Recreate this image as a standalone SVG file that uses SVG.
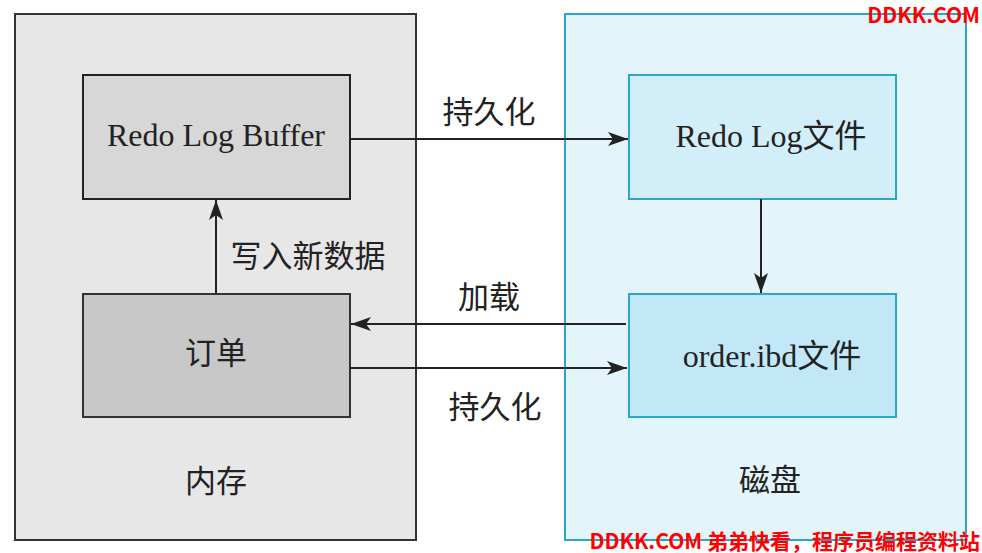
<svg xmlns="http://www.w3.org/2000/svg" width="982" height="553" viewBox="0 0 982 553">
<defs>
<marker id="ah" viewBox="0 0 20 14" refX="20" refY="7" markerWidth="20" markerHeight="14" markerUnits="userSpaceOnUse" orient="auto">
<path d="M0,0 L20,7 L0,14 L5,7 Z" fill="#222"/>
</marker>
<style>
.t{font-family:"Liberation Serif","Noto Sans CJK SC",serif;font-size:31px;fill:#222;text-anchor:middle}
.l{font-size:32px}
.c{stroke:#222;stroke-width:2;fill:none}
.w{font-family:"Noto Sans CJK SC","Liberation Sans",sans-serif;font-weight:bold;fill:#ff0000;font-size:21px}
</style>
</defs>
<rect width="982" height="553" fill="#ffffff"/>
<g id="mem">
<rect x="15" y="14" width="401" height="526" fill="#e7e7e7" stroke="#333" stroke-width="2"/>
<text class="t" x="216" y="492">内存</text>
</g>
<g id="disk">
<rect x="565" y="14" width="401" height="526" fill="#e3f4fb" stroke="#2aa6c9" stroke-width="2"/>
<text class="t" x="770" y="491">磁盘</text>
</g>
<g id="buffer">
<rect x="83" y="75" width="267" height="124" fill="#d7d7d7" stroke="#222" stroke-width="2"/>
<text class="t l" x="216" y="146">Redo Log Buffer</text>
</g>
<g id="order">
<rect x="83" y="294" width="267" height="123" fill="#c8c8c8" stroke="#333" stroke-width="2"/>
<text class="t" x="216" y="364">订单</text>
</g>
<g id="redofile">
<rect x="629" y="75" width="267" height="124" fill="#d2eef9" stroke="#2aa6c9" stroke-width="2"/>
<text class="t l" x="771" y="147">Redo Log文件</text>
</g>
<g id="ibd">
<rect x="629" y="294" width="267" height="123" fill="#c2e8f8" stroke="#2aa6c9" stroke-width="2"/>
<text class="t l" x="772" y="367">order.ibd文件</text>
</g>
<g id="connectors">
<line class="c" x1="350" y1="139" x2="628" y2="139" marker-end="url(#ah)"/>
<line class="c" x1="216" y1="293" x2="216" y2="200" marker-end="url(#ah)"/>
<line class="c" x1="761" y1="199" x2="761" y2="293" marker-end="url(#ah)"/>
<line class="c" x1="626" y1="324" x2="351" y2="324" marker-end="url(#ah)"/>
<line class="c" x1="350" y1="368" x2="627" y2="368" marker-end="url(#ah)"/>
<text class="t" x="489" y="123">持久化</text>
<text class="t" x="308" y="267">写入新数据</text>
<text class="t" x="489" y="308">加载</text>
<text class="t" x="495" y="418">持久化</text>
</g>
<text class="w" x="980" y="23" text-anchor="end">DDKK.COM</text>
<text class="w" x="980" y="549" text-anchor="end">DDKK.COM 弟弟快看，程序员编程资料站</text>
</svg>
